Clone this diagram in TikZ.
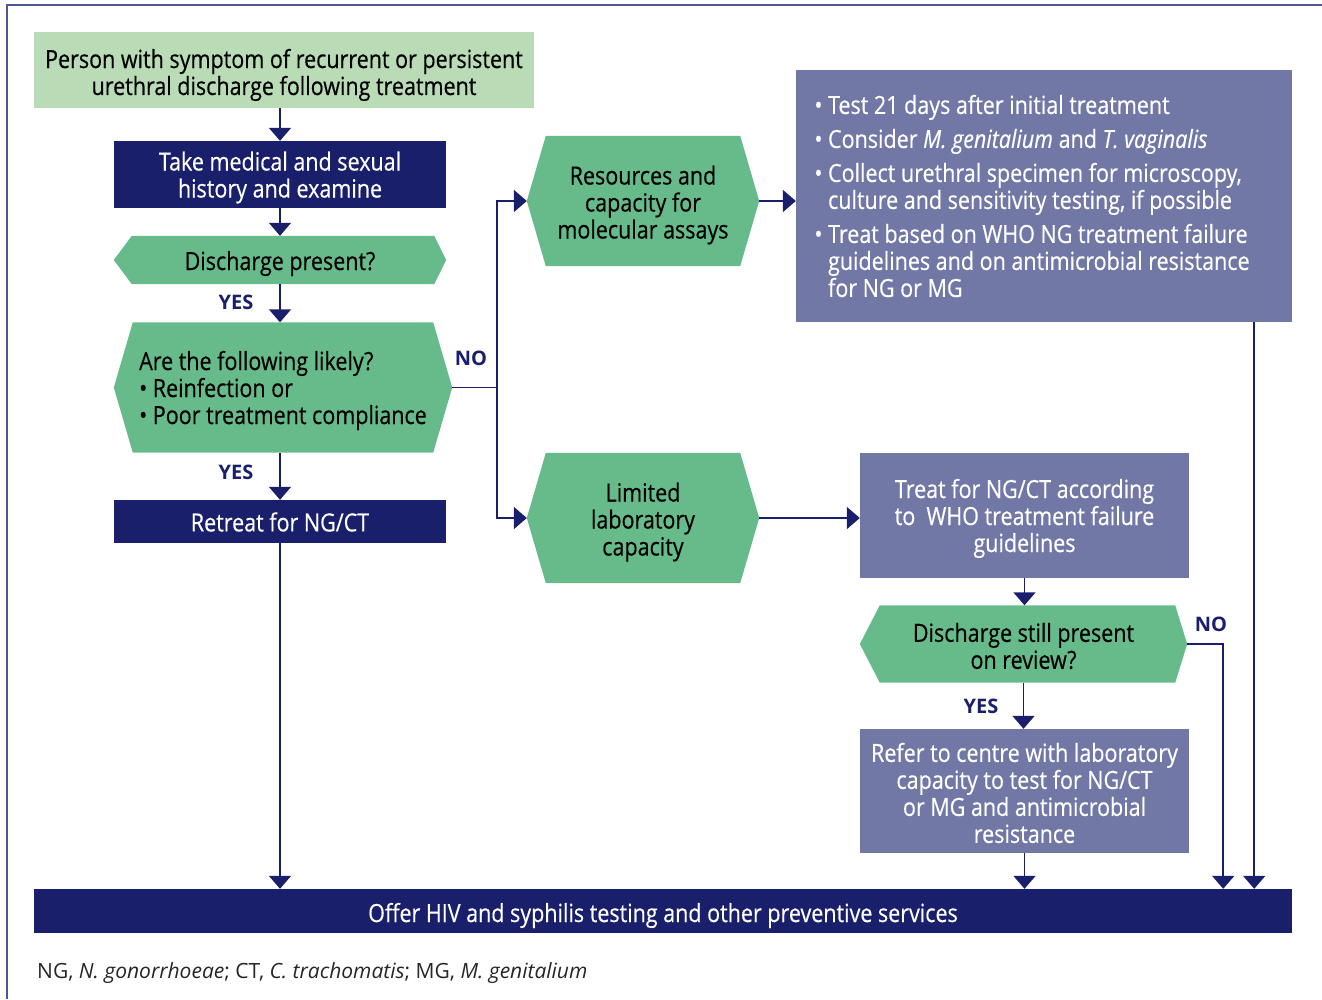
\documentclass[tikz,border=0pt]{standalone}
\usepackage{fontspec}
\setmainfont{Open Sans}
\newfontfamily\cond{Open Sans}[FakeStretch=0.86,FakeBold=0.4]
\usetikzlibrary{arrows.meta}
\definecolor{navy}{HTML}{1A1F6C}
\definecolor{slate}{HTML}{7278A6}
\definecolor{palegreen}{HTML}{B9DCB7}
\definecolor{hexgreen}{HTML}{67BB8A}
\definecolor{foottext}{HTML}{262626}
\pgfdeclarelayer{bg}
\pgfsetlayers{bg,main}
% invisible strut that sets the height of a first text line
\newcommand{\strutto}[1]{\rule{0pt}{#1}}
% fill a hexagon behind a node: name, left inset, right inset
\newcommand{\hexfill}[3]{%
  \begin{pgfonlayer}{bg}
    \fill[hexgreen] ([xshift=#2]#1.north west) -- ([xshift=-#3]#1.north east) -- (#1.east)
      -- ([xshift=-#3]#1.south east) -- ([xshift=#2]#1.south west) -- (#1.west) -- cycle;
  \end{pgfonlayer}}
\begin{document}
\begin{tikzpicture}[x=1pt,y=-1pt,
  box/.style={rectangle, inner sep=0pt, align=center, font=\cond\fontsize{25}{27}\selectfont},
  lightbox/.style={box, fill=palegreen, text=black},
  navybox/.style={box, fill=navy, text=white},
  slatebox/.style={box, fill=slate, text=white},
  hexnode/.style={box, text=black},
  lbl/.style={font=\bfseries\fontsize{20}{24}\selectfont, text=navy, inner sep=0pt},
  link/.style={draw=navy, line width=1.8pt},
  arr/.style={link, -{Triangle[width=22pt,length=13pt]}}]
\useasboundingbox (0,0) rectangle (1322,999);
\draw[navy!75, line width=1.5pt] (1322,5) -- (7,5) -- (7,999);

% left column
\node[lightbox, minimum width=500, minimum height=76] (top) at (284,70)
  {\strutto{29pt}Person with symptom of recurrent or persistent\\urethral discharge following treatment};
\node[navybox, minimum width=332, minimum height=67] (hist) at (280,174.5)
  {\strutto{25pt}Take medical and sexual\\history and examine};
\node[hexnode, minimum width=332, minimum height=48] (dp) at (280,260)
  {\strutto{26pt}Discharge present?};
\hexfill{dp}{18pt}{12pt}
\node[hexnode, align=left, minimum width=338, minimum height=130] (likely) at (283,387.5)
  {\strutto{25pt}Are the following likely?\\\textbullet\ Reinfection or\\\textbullet\ Poor treatment compliance};
\hexfill{likely}{19pt}{19pt}
\node[navybox, minimum width=332, minimum height=43] (retreat) at (280,521.5)
  {\strutto{20pt}Retreat for NG/CT};

% middle column
\node[hexnode, minimum width=232, minimum height=130] (res) at (643,201)
  {\strutto{27pt}Resources and\\capacity for\\molecular assays};
\hexfill{res}{19pt}{19pt}
\node[hexnode, minimum width=232, minimum height=130] (lim) at (643,518)
  {\strutto{27pt}Limited\\laboratory\\capacity};
\hexfill{lim}{19pt}{19pt}

% right column
\node[slatebox, align=left, minimum width=496, minimum height=252] (bul) at (1044,196)
  {\textbullet\ Test 21 days after initial treatment\\[7pt]
   \textbullet\ Consider \textit{M. genitalium} and \textit{T. vaginalis}\\[7pt]
   \textbullet\ Collect urethral specimen for microscopy,\\
   \hphantom{\textbullet\ }culture and sensitivity testing, if possible\\[7pt]
   \textbullet\ Treat based on WHO NG treatment failure\\
   \hphantom{\textbullet\ }guidelines and on antimicrobial resistance\makebox[24pt]{}\\
   \hphantom{\textbullet\ }for NG or MG};
\node[slatebox, minimum width=329, minimum height=125] (treat) at (1024.5,515.5)
  {\strutto{25pt}Treat for NG/CT according\\to\ \ WHO treatment failure\\guidelines};
\node[hexnode, minimum width=327, minimum height=77] (still) at (1023.5,644)
  {\strutto{23pt}Discharge still present\\on review?};
\hexfill{still}{20pt}{12pt}
\node[slatebox, minimum width=329, minimum height=124] (refer) at (1024.5,791)
  {\strutto{23pt}Refer to centre with laboratory\\capacity to test for NG/CT\\or MG and antimicrobial\\resistance};

% bottom
\node[navybox, minimum width=1258, minimum height=44] (offer) at (663,911)
  {\strutto{28pt}Offer HIV and syphilis testing and other preventive services};
\node[anchor=base west, inner sep=0pt, text=foottext, font=\fontsize{21}{24}\selectfont] (foot) at (37,978)
  {NG, \textit{N. gonorrhoeae}; CT, \textit{C. trachomatis}; MG, \textit{M. genitalium}};

% branch labels
\node[lbl] (yes1) at (236,302) {YES};
\node[lbl] (yes2) at (236,472) {YES};
\node[lbl] (no1) at (471,358) {NO};
\node[lbl] (no2) at (1211,624) {NO};
\node[lbl] (yes3) at (981,706) {YES};

% connectors
\draw[arr] (hist.north |- top.south) -- (hist.north);
\draw[arr] (hist.south) -- (dp.north);
\draw[arr] (dp.south) -- (dp.south |- likely.north);
\draw[arr] (likely.south -| retreat.north) -- (retreat.north);
\draw[arr] (retreat.south) -- (retreat.south |- offer.north);
\coordinate (split) at (497,387.5);
\draw[link] (likely.east) -- (split);
\draw[arr] (split) |- (res.west);
\draw[arr] (split) |- (lim.west);
\draw[arr] (res.east) -- (res.east -| bul.west);
\draw[arr] (lim.east) -- (lim.east -| treat.west);
\draw[arr] (treat.south) -- (treat.south |- still.north);
\draw[arr] (still.south) -- (still.south |- refer.north);
\draw[arr] (refer.south) -- (refer.south |- offer.north);
\draw[arr] (still.east) -| ([xshift=36pt]still.east |- offer.north);
\draw[arr] ([xshift=-38pt]bul.south east) -- ([xshift=-38pt]bul.south east |- offer.north);
\end{tikzpicture}
\end{document}
